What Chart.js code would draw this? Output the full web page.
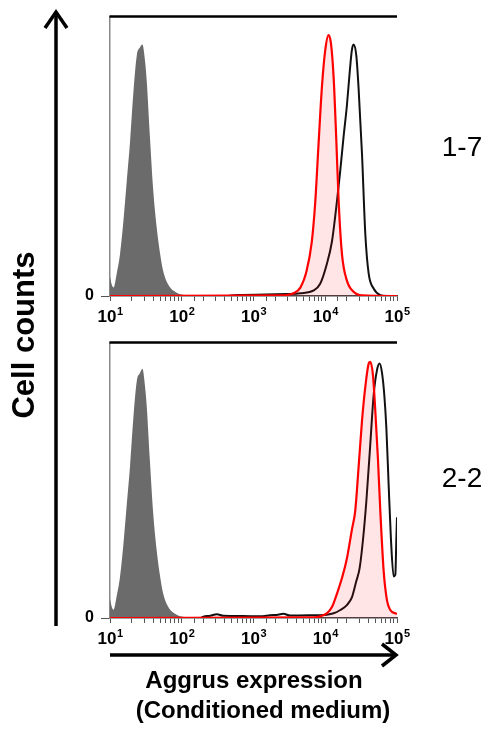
<!DOCTYPE html>
<html>
<head>
<meta charset="utf-8">
<script src="https://cdn.jsdelivr.net/npm/chart.js@4/dist/chart.umd.min.js"></script>
<style>
  body { margin: 0; background: #fff; }
  #wrap { position: relative; width: 493px; height: 731px; overflow: hidden; font-family: "Liberation Sans", Arial, sans-serif; }
  canvas { position: absolute; }
  .txt { position: absolute; white-space: nowrap; color: #000; }
</style>
</head>
<body>
<div id="wrap">
  <canvas id="top" width="350" height="326" style="left:60px;top:0px"></canvas>
  <canvas id="bottom" width="350" height="330" style="left:60px;top:326px"></canvas>

  <svg width="493" height="731" style="position:absolute;left:0;top:0">
    <line x1="56" y1="626" x2="56" y2="13" stroke="#000" stroke-width="3.5"/>
    <polyline points="45,28 56,12 67,28" fill="none" stroke="#000" stroke-width="3.5"/>
    <line x1="110" y1="655" x2="394" y2="655" stroke="#000" stroke-width="3.5"/>
    <polyline points="382,644 396,655 382,666" fill="none" stroke="#000" stroke-width="3.5"/>
  </svg>

  <div class="txt" style="left:24px;top:335px;font-size:31px;font-weight:bold;transform:translate(-50%,-50%) rotate(-90deg)">Cell counts</div>
  <div class="txt" style="left:462px;top:147px;font-size:28px;transform:translate(-50%,-50%)">1-7</div>
  <div class="txt" style="left:462px;top:478px;font-size:28px;transform:translate(-50%,-50%)">2-2</div>
  <div class="txt" style="left:254px;top:668px;font-size:24px;font-weight:bold;line-height:24px;transform:translateX(-50%)">Aggrus expression</div>
  <div class="txt" style="left:263px;top:698px;font-size:24px;font-weight:bold;line-height:24px;transform:translateX(-50%)">(Conditioned medium)</div>
</div>

<script>
// fluorescence intensity vs relative cell count (% of panel height)
const tickExps = [1, 2, 3, 4, 5];

const control17 = [[10,7],[10.6,4],[11.2,3],[12.4,8],[13.8,15],[15.4,27],[17.1,41],[19,55],[21.2,73],[23.6,86],[26.2,89],[28.3,90],[30.8,84],[32.5,77],[36,57],[40,38],[45,24],[50,15],[55,9],[65,4],[85,1.2],[117,0.3],[200,0],[100000,0]];
const medium17 = [[10,0],[2400,0.2],[3600,1],[4500,3],[5500,9],[6500,19.5],[7250,33.5],[8050,54],[9000,75],[10000,88],[11100,93.4],[12000,90.5],[13100,78],[14200,57],[15400,33.5],[17100,15],[20000,5.6],[24800,1.5],[32500,0.2],[100000,0]];
const cells17 = [[10,0],[400,0],[600,0.4],[1500,0.5],[2900,0.7],[4500,1],[6900,2],[8500,4.4],[10500,11.4],[12400,19.5],[14500,33.5],[16200,45],[18000,57],[20000,68],[21900,80],[23500,88],[24800,90],[27100,86],[29200,74],[32500,51],[36200,22],[40300,8],[47200,2.7],[58500,0.3],[70000,0],[100000,0]];

const control22 = [[10,7],[10.6,4],[11.2,3],[12.4,8],[13.8,15],[15.4,27],[17.1,41],[19,55],[21.2,73],[23.6,86],[26.2,89],[28.3,90.5],[30.8,84],[32.5,77],[36,57],[40,38],[45,24],[50,15],[55,9],[65,4],[85,1.2],[117,0.3],[200,0],[100000,0]];
const medium22 = [[10,0],[7000,0.2],[8500,0.6],[10500,1.7],[12400,4],[14500,8.7],[17100,14.5],[20000,21.5],[23500,32],[26200,39],[29200,55],[32500,71.5],[36200,84],[40300,92.4],[42500,93],[46300,88],[49900,75],[54300,57.6],[58500,39],[65200,17],[72500,6.4],[80700,2.9],[94800,1.7],[100000,1.5]];
const cells22 = [[10,0],[180,0],[200,0.5],[250,0.8],[308,1.4],[381,0.8],[700,0.7],[1240,0.6],[1700,1],[2200,1.2],[2620,1.5],[3250,0.9],[6200,1],[10500,1.2],[13100,1.7],[16200,2.9],[20000,4.7],[23600,7.6],[27100,13.4],[30100,18],[33600,28.5],[37400,42.4],[42500,63.4],[47200,80.8],[52600,90],[57300,92.4],[61800,89],[66600,80.8],[71000,69.2],[76500,48.3],[82400,28.5],[89800,15.1],[94800,15.7],[97900,28.5],[100000,36.6]];

const FONT = '"Liberation Sans", Arial, sans-serif';

function pts(arr) {
  return arr.map(p => ({ x: p[0], y: p[1] }));
}

// draws 10^n labels and the heavy top border
const decor = {
  id: 'decor',
  afterDraw(chart) {
    const ctx = chart.ctx;
    const a = chart.chartArea;
    const s = chart.scales.x;
    ctx.save();
    ctx.strokeStyle = '#000';
    ctx.lineWidth = 2.5;
    ctx.beginPath();
    ctx.moveTo(a.left - 0.5, a.top);
    ctx.lineTo(a.right, a.top);
    ctx.stroke();

    ctx.fillStyle = '#000';
    ctx.textBaseline = 'alphabetic';
    tickExps.forEach(e => {
      const x = s.getPixelForValue(Math.pow(10, e));
      ctx.font = 'bold 17px ' + FONT;
      const w1 = ctx.measureText('10').width;
      ctx.font = 'bold 11px ' + FONT;
      const w2 = ctx.measureText(String(e)).width;
      const x0 = x - (w1 + w2) / 2;
      ctx.font = 'bold 17px ' + FONT;
      ctx.fillText('10', x0, a.bottom + 26);
      ctx.font = 'bold 11px ' + FONT;
      ctx.fillText(String(e), x0 + w1 + 0.5, a.bottom + 19);
    });
    ctx.restore();
  }
};

function makeChart(id, control, medium, cells, padTop, axisH) {
  const ctx = document.getElementById(id).getContext('2d');
  return new Chart(ctx, {
    type: 'line',
    data: {
      datasets: [
        {
          label: 'Conditioned medium',
          data: pts(medium),
          borderColor: '#ff0000',
          borderWidth: 2.2,
          backgroundColor: 'rgba(255,0,0,0.1)',
          fill: 'origin',
          cubicInterpolationMode: 'monotone',
          pointRadius: 0
        },
        {
          label: 'Cells',
          data: pts(cells),
          borderColor: '#111',
          borderWidth: 2,
          fill: false,
          cubicInterpolationMode: 'monotone',
          pointRadius: 0
        },
        {
          label: 'Control',
          data: pts(control),
          borderColor: 'rgba(0,0,0,0)',
          borderWidth: 0,
          backgroundColor: '#6b6b6b',
          fill: 'origin',
          cubicInterpolationMode: 'monotone',
          pointRadius: 0
        }
      ]
    },
    options: {
      responsive: false,
      animation: false,
      layout: { padding: { top: padTop, right: 13, left: 0, bottom: 0 } },
      plugins: {
        legend: { display: false },
        tooltip: { enabled: false }
      },
      scales: {
        x: {
          type: 'logarithmic',
          min: 10,
          max: 100000,
          afterFit: s => { s.height = axisH; },
          border: { color: '#444', width: 1.5 },
          grid: { drawOnChartArea: false, drawTicks: true, tickLength: 5, color: '#555', lineWidth: 1 },
          ticks: { autoSkip: false, maxRotation: 0, callback: () => '' }
        },
        y: {
          min: 0,
          max: 100,
          afterFit: s => { s.width = 50; },
          afterBuildTicks: s => { s.ticks = [{ value: 0 }]; },
          border: { color: '#888', width: 1.5 },
          grid: { drawOnChartArea: false, drawTicks: true, tickLength: 9, color: '#555' },
          ticks: {
            padding: 7,
            color: '#000',
            font: { family: FONT, size: 16, weight: 'bold' },
            callback: v => (v === 0 ? '0' : '')
          }
        }
      }
    },
    plugins: [decor]
  });
}

makeChart('top', control17, medium17, cells17, 9, 30);
makeChart('bottom', control22, medium22, cells22, 6, 38);
</script>
</body>
</html>
